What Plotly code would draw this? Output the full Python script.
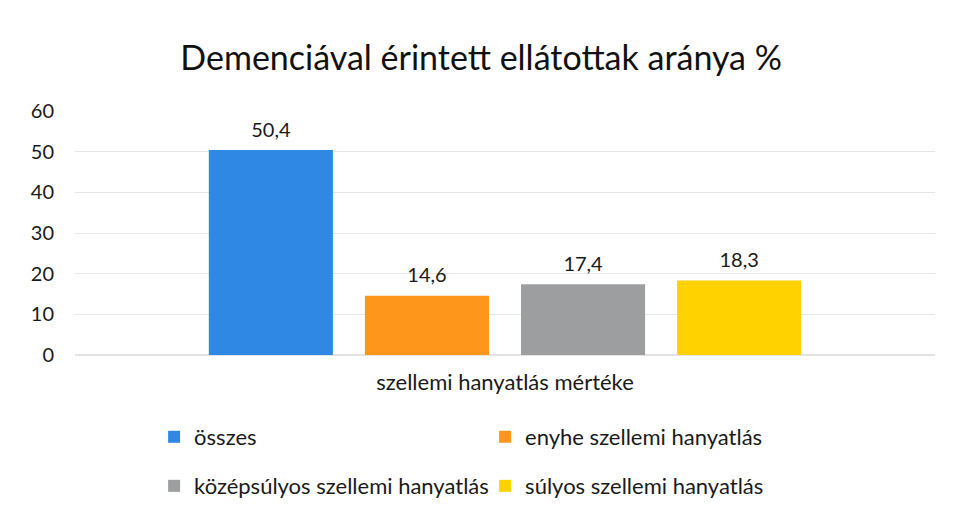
import plotly.graph_objects as go

category = ["szellemi hanyatlás mértéke"]
series_names = ["összes", "enyhe szellemi hanyatlás", "középsúlyos szellemi hanyatlás", "súlyos szellemi hanyatlás"]
series_values = [50.4, 14.6, 17.4, 18.3]
colors = ["#2E88E4", "#FF961C", "#9C9EA0", "#FFD200"]
legend_ids = ["legend", "legend", "legend2", "legend2"]
y_ticks = [0, 10, 20, 30, 40, 50, 60]

FONT = "Lato, 'Open Sans', sans-serif"

fig = go.Figure()
for i, (name, val, col, lg) in enumerate(zip(series_names, series_values, colors, legend_ids)):
    fig.add_trace(go.Bar(
        x=category, y=[val], name=name, marker=dict(color=col, line=dict(width=0)),
        offsetgroup=str(i), legend=lg,
    ))
for i, val in enumerate(series_values):
    fig.add_trace(go.Scatter(
        x=category, y=[val], mode="markers+text", offsetgroup=str(i),
        marker=dict(size=12, opacity=0), showlegend=False, hoverinfo="skip",
        text=[f"{val:.1f}".replace(".", ",")], textposition="top center",
        textfont=dict(size=20, color="#1a1a1a", family=FONT), cliponaxis=False,
    ))

fig.update_layout(
    width=954, height=512,
    paper_bgcolor="white", plot_bgcolor="white",
    margin=dict(l=67, r=27, t=103, b=165, autoexpand=False),
    font=dict(family=FONT, color="#1a1a1a", size=20),
    title=dict(text="Demenciával érintett ellátottak aránya %", x=0.496, xanchor="center",
               y=0.902, yanchor="middle", font=dict(size=34, color="#111111", family=FONT)),
    barmode="group", bargap=0.274, bargroupgap=0.205,
    scattermode="group", scattergap=0.274,
    xaxis=dict(showline=False, ticks="", tickfont=dict(size=22), showgrid=False,
               ticklabelstandoff=12, automargin=False),
    yaxis=dict(range=[0, 60], tickvals=y_ticks, showgrid=True, gridcolor="#E6E6E6",
               gridwidth=1, zeroline=True, zerolinecolor="#E3E3E3", showline=False,
               ticks="", tickfont=dict(size=20), ticklabelstandoff=20, automargin=False),
    legend=dict(orientation="h", x=0.092, xanchor="left", y=-0.336, yanchor="middle",
                entrywidth=286, entrywidthmode="pixels", font=dict(size=22), bgcolor="rgba(0,0,0,0)"),
    legend2=dict(orientation="h", x=0.092, xanchor="left", y=-0.537, yanchor="middle",
                 entrywidth=286, entrywidthmode="pixels", font=dict(size=22), bgcolor="rgba(0,0,0,0)"),
)

fig.write_html("out.html")
